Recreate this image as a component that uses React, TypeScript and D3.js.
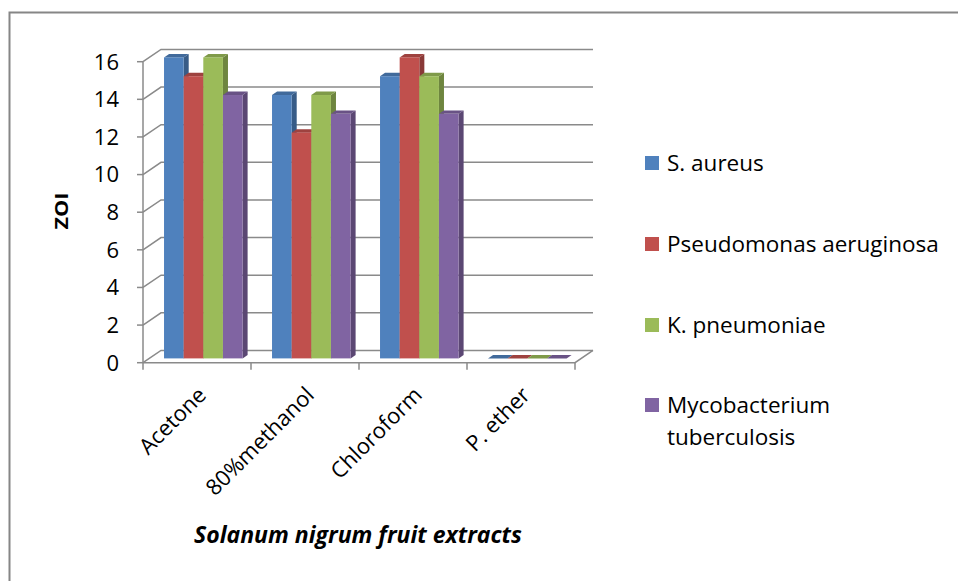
import React from "react";
import * as d3 from "d3";

const categories = ["Acetone", "80%methanol", "Chloroform", "P. ether"];
const seriesNames = ["S. aureus", "Pseudomonas aeruginosa", "K. pneumoniae", "Mycobacterium tuberculosis"];
const sAureus = [16, 14, 15, 0];
const pseudomonas = [15, 12, 16, 0];
const kPneumoniae = [16, 14, 15, 0];
const mycobacterium = [14, 13, 13, 0];
const seriesValues = [sAureus, pseudomonas, kPneumoniae, mycobacterium];
const seriesColors = ["#4F81BD", "#C0504D", "#9BBB59", "#8064A2"];
const yTicks = [0, 2, 4, 6, 8, 10, 12, 14, 16];
const xTitle = "Solanum nigrum fruit extracts";
const yTitle = "ZOI";

const W = 958;
const H = 581;
const FONT = "'Open Sans', sans-serif";

export default function App() {
  const xBand = d3.scaleBand<string>().domain(categories).range([143, 575]).padding(0);
  const inner = d3
    .scaleBand<string>()
    .domain(seriesNames)
    .range([0, xBand.bandwidth()])
    .paddingInner(0)
    .paddingOuter(0.75);
  const y = d3.scaleLinear().domain([0, 16]).range([362.7, 61.7]);
  const DX = 18;
  const DY = 12.3;
  const proj = (x: number, v: number, z: number): [number, number] => [x + z * DX, y(v) - z * DY];
  const pts = (arr: [number, number][]) => arr.map((p) => p.join(",")).join(" ");
  const z0 = 0.35;
  const z1 = 0.63;
  const [xl, xr] = xBand.range();

  const bars: React.ReactNode[] = [];
  categories.forEach((cat, ci) => {
    seriesNames.forEach((s, si) => {
      const v = seriesValues[si][ci];
      const bx = (xBand(cat) as number) + (inner(s) as number);
      const w = inner.bandwidth();
      const c = d3.color(seriesColors[si])!;
      const top = c.darker(0.55).formatHex();
      const side = c.darker(0.95).formatHex();
      const front = proj(bx, v, z0);
      const frontB = proj(bx + w, 0, z0);
      bars.push(
        <g key={`${ci}-${si}`}>
          <polygon
            points={pts([proj(bx + w, v, z0), proj(bx + w, v, z1), proj(bx + w, 0, z1), proj(bx + w, 0, z0)])}
            fill={side}
          />
          <polygon
            points={pts([proj(bx, v, z0), proj(bx + w, v, z0), proj(bx + w, v, z1), proj(bx, v, z1)])}
            fill={top}
          />
          {v > 0 && (
            <rect x={front[0]} y={front[1]} width={frontB[0] - front[0]} height={frontB[1] - front[1]} fill={seriesColors[si]} />
          )}
        </g>
      );
    });
  });

  const legendRows = [163, 244, 325, 405];

  return (
    <svg width={W} height={H} style={{ position: "absolute", left: 0, top: 0, display: "block" }} fontFamily={FONT}>
      <rect x={0} y={0} width={W} height={H} fill="#fff" />
      <rect x={9.5} y={12.5} width={1200} height={1200} fill="none" stroke="#868686" strokeWidth={2} />
      {/* gridlines / walls */}
      {yTicks.map((t) => (
        <polyline
          key={t}
          points={pts([proj(xl, t, 0), proj(xl, t, 1), proj(xr, t, 1)])}
          fill="none"
          stroke="#8a8a8a"
          strokeWidth={1.5}
        />
      ))}
      {/* floor */}
      <polyline points={pts([proj(xl, 0, 0), proj(xr, 0, 0), proj(xr, 0, 1)])} fill="none" stroke="#8a8a8a" strokeWidth={1.5} />
      {/* y axis */}
      <line x1={xl} x2={xl} y1={y(0)} y2={y(16)} stroke="#8a8a8a" strokeWidth={1.5} />
      {yTicks.map((t) => (
        <g key={"yt" + t}>
          <line x1={xl - 6} x2={xl} y1={y(t)} y2={y(t)} stroke="#8a8a8a" strokeWidth={1.5} />
          <text x={119} y={y(t)} dy="0.36em" textAnchor="end" fontSize={22} fill="#000">
            {t}
          </text>
        </g>
      ))}
      {/* x ticks */}
      {[...categories.map((c) => xBand(c) as number), xr].map((x, i) => (
        <line key={"xt" + i} x1={x} x2={x} y1={y(0)} y2={y(0) + 7} stroke="#8a8a8a" strokeWidth={1.5} />
      ))}
      {bars}
      {/* category labels */}
      {categories.map((c) => {
        const cx = (xBand(c) as number) + xBand.bandwidth() / 2 + 5;
        const cy = 391;
        return (
          <text
            key={"cl" + c}
            x={cx}
            y={cy}
            textAnchor="end"
            dy="0.35em"
            fontSize={22}
            fill="#000"
            transform={`rotate(-45, ${cx}, ${cy})`}
          >
            {c}
          </text>
        );
      })}
      {/* axis titles */}
      <text x={358} y={543} textAnchor="middle" fontSize={23} fontWeight="bold" fontStyle="italic" fill="#000">
        {xTitle}
      </text>
      <text
        x={68}
        y={211}
        textAnchor="middle"
        fontSize={17}
        fontWeight="bold"
        fill="#000"
        textLength={37}
        lengthAdjust="spacingAndGlyphs"
        transform="rotate(-90, 68, 211)"
      >
        {yTitle}
      </text>
      {/* legend */}
      {seriesNames.map((s, i) => {
        const cy = legendRows[i];
        const words = i === 3 ? ["Mycobacterium", "tuberculosis"] : [s];
        return (
          <g key={"lg" + s}>
            <rect x={645} y={cy - 7} width={14} height={14} fill={seriesColors[i]} />
            {words.map((wd, j) => (
              <text key={j} x={667} y={cy + j * 32} dy="0.36em" fontSize={22.5} fill="#000">
                {wd}
              </text>
            ))}
          </g>
        );
      })}
    </svg>
  );
}
